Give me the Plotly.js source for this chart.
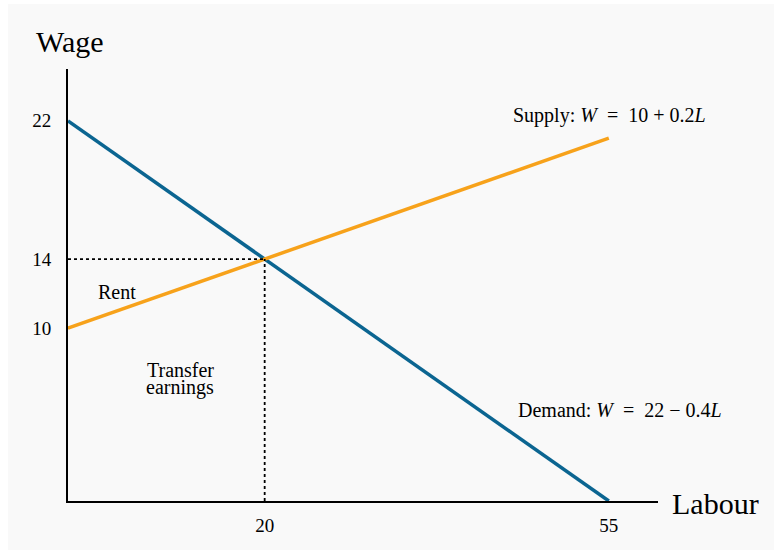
<!DOCTYPE html>
<html>
<head>
<meta charset="utf-8">
<script src="https://cdn.plot.ly/plotly-3.0.1.min.js"></script>
<style>
html,body{margin:0;padding:0;background:#ffffff;}
#chart{position:absolute;left:8px;top:4px;width:766px;height:546px;}
</style>
</head>
<body>
<div id="chart"></div>
<script>
const labour = [0, 55];
const supplyWage = [10, 21];
const demandWage = [22, 0];
const eqLabour = 20;
const eqWage = 14;
const xTickVals = [20, 55];
const yTickVals = [10, 14, 22];

const serif = "Liberation Serif, Times New Roman, serif";

const traces = [
  {x: labour, y: demandWage, mode: 'lines', line: {color: '#0b6591', width: 3.5}, hoverinfo: 'skip'},
  {x: labour, y: supplyWage, mode: 'lines', line: {color: '#f7a21b', width: 3.5}, hoverinfo: 'skip'},
  {x: [0, eqLabour], y: [eqWage, eqWage], mode: 'lines', line: {color: '#000', width: 1.8, dash: 'dot'}, hoverinfo: 'skip'},
  {x: [eqLabour, eqLabour], y: [0, eqWage], mode: 'lines', line: {color: '#000', width: 1.8, dash: 'dot'}, hoverinfo: 'skip'}
];

const layout = {
  width: 766, height: 546,
  paper_bgcolor: '#f9f9f9', plot_bgcolor: '#f9f9f9',
  showlegend: false,
  margin: {l: 60.4, r: 115.8, t: 64.5, b: 49, pad: 0},
  font: {family: serif, color: '#000', size: 19},
  xaxis: {range: [0, 60], showgrid: false, zeroline: false, showline: true, linecolor: '#000', linewidth: 2,
          tickvals: xTickVals, ticktext: xTickVals.map(String), ticks: '', ticklabelstandoff: 6, tickfont: {size: 19, family: serif}},
  yaxis: {range: [0, 25], showgrid: false, zeroline: false, showline: true, linecolor: '#000', linewidth: 2,
          tickvals: yTickVals, ticktext: yTickVals.map(String), ticks: '', ticklabelstandoff: 11, tickfont: {size: 19, family: serif}},
  annotations: [
    {x: 0.0027, y: 1.064, xref: 'paper', yref: 'paper', text: 'Wage', showarrow: false, font: {size: 30}, xanchor: 'center', yanchor: 'middle'},
    {x: 1.02, y: -0.006, xref: 'paper', yref: 'paper', text: 'Labour', showarrow: false, font: {size: 30}, xanchor: 'left', yanchor: 'middle'},
    {x: 55.1, y: 22.3, xref: 'x', yref: 'y', text: 'Supply: <i>W</i>  =  10 + 0.2<i>L</i>', showarrow: false, font: {size: 20}},
    {x: 56.1, y: 5.25, xref: 'x', yref: 'y', text: 'Demand: <i>W</i>  =  22 − 0.4<i>L</i>', showarrow: false, font: {size: 20}},
    {x: 5.0, y: 12.1, xref: 'x', yref: 'y', text: 'Rent', showarrow: false, font: {size: 20}},
    {x: 11.4, y: 7.6, xref: 'x', yref: 'y', text: 'Transfer', showarrow: false, font: {size: 20}},
    {x: 11.4, y: 6.55, xref: 'x', yref: 'y', text: 'earnings', showarrow: false, font: {size: 20}}
  ]
};

Plotly.newPlot('chart', traces, layout, {displayModeBar: false, staticPlot: true});
</script>
</body>
</html>
